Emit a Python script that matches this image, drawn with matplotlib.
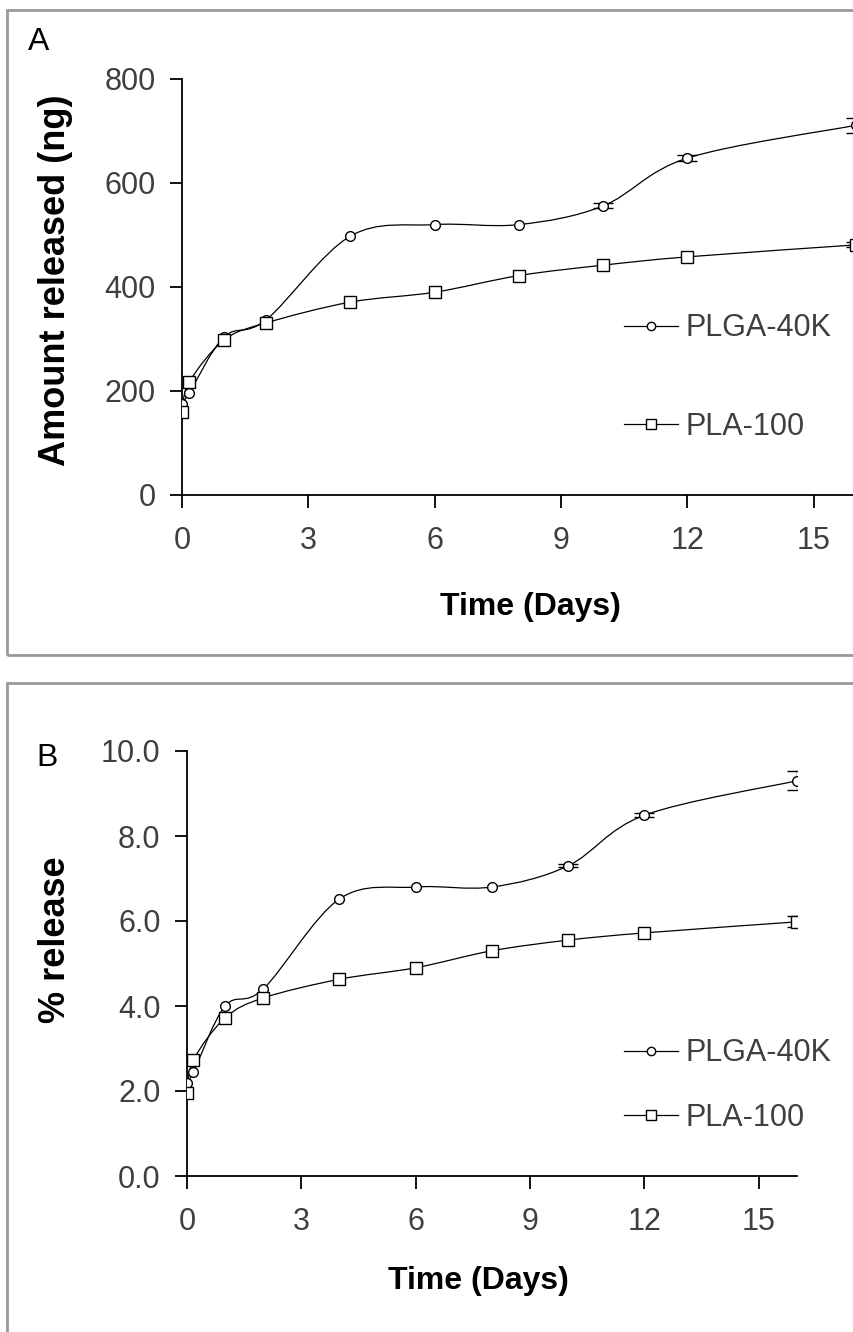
import matplotlib
matplotlib.use('Agg')

import numpy as np
import matplotlib.pyplot as plt
from matplotlib.path import Path
from matplotlib.patches import PathPatch, Rectangle
from matplotlib.lines import Line2D
from matplotlib import font_manager

plt.rcParams['font.family'] = ['Liberation Sans', 'DejaVu Sans']

# ---- data ----
days = [0.0, 0.17, 1, 2, 4, 6, 8, 10, 12, 16]

# panel A: amount released (ng)
plga_ng = [175, 196, 304, 337, 498, 520, 520, 556, 648, 711]
pla_ng = [160, 217, 298, 331, 371, 390, 422, 442, 458, 481]
plga_ng_err = [0, 0, 0, 0, 0, 0, 0, 5, 5, 14]
pla_ng_err = [0, 0, 0, 0, 0, 0, 0, 0, 0, 5]

# panel B: % release
plga_pct = [2.2, 2.45, 4.0, 4.4, 6.52, 6.8, 6.8, 7.3, 8.49, 9.3]
pla_pct = [1.95, 2.73, 3.72, 4.19, 4.63, 4.9, 5.3, 5.55, 5.72, 5.98]
plga_pct_err = [0, 0, 0, 0, 0, 0, 0, 0.04, 0.04, 0.22]
pla_pct_err = [0, 0, 0, 0, 0, 0, 0, 0, 0, 0.13]

x_ticks = [0, 3, 6, 9, 12, 15]
yticks_a = [0, 200, 400, 600, 800]
yticks_b = [0, 2, 4, 6, 8, 10]
series_labels = ['PLGA-40K', 'PLA-100']

W, H = 854, 1332
fig = plt.figure(figsize=(W / 100, H / 100), dpi=100)
fig.patch.set_facecolor('white')

tick_color = '#3f3f3f'

# narrow bold face for the x titles, if it is there
installed = {f.name for f in font_manager.fontManager.ttflist}
narrow = 'Liberation Sans Narrow' if 'Liberation Sans Narrow' in installed else None


def fx(px):
    return px / W


def fy(py):
    return 1 - py / H


def smooth_line(ax, x, y):
    # Excel-style smoothed line: cubic Bezier through every point
    x = np.asarray(x, float)
    y = np.asarray(y, float)
    n = len(x)
    verts = [(x[0], y[0])]
    codes = [Path.MOVETO]
    for i in range(n - 1):
        x0, y0 = (x[i - 1], y[i - 1]) if i > 0 else (x[i], y[i])
        x3, y3 = (x[i + 2], y[i + 2]) if i + 2 < n else (x[i + 1], y[i + 1])
        c1 = (x[i] + (x[i + 1] - x0) / 6, y[i] + (y[i + 1] - y0) / 6)
        c2 = (x[i + 1] - (x3 - x[i]) / 6, y[i + 1] - (y3 - y[i]) / 6)
        verts += [c1, c2, (x[i + 1], y[i + 1])]
        codes += [Path.CURVE4] * 3
    ax.add_patch(PathPatch(Path(verts, codes), facecolor='none',
                           edgecolor='black', lw=0.9, zorder=2))


def draw_series(ax, x, y, err, marker, ms):
    smooth_line(ax, x, y)
    x = np.asarray(x, float)
    y = np.asarray(y, float)
    err = np.asarray(err, float)
    has = err > 0
    ax.errorbar(x[has], y[has], yerr=err[has], fmt='none', ecolor='black',
                elinewidth=1.0, capsize=7, capthick=1.0, zorder=3)
    ax.plot(x, y, linestyle='none', marker=marker, ms=ms, mfc='white',
            mec='black', mew=1.0, zorder=4)


def style_axes(ax, yticks, ylim, fmt):
    for s in ['top', 'right']:
        ax.spines[s].set_visible(False)
    for s in ['left', 'bottom']:
        ax.spines[s].set_linewidth(1.3)
        ax.spines[s].set_color('black')
    ax.set_xlim(0, 16)
    ax.set_ylim(*ylim)
    ax.set_xticks(x_ticks)
    ax.set_yticks(yticks)
    ax.set_yticklabels([fmt.format(v) for v in yticks])
    ax.tick_params(direction='out', length=9, width=1.3, colors='black',
                   labelcolor=tick_color, labelsize=22, pad=10)
    ax.tick_params(axis='x', pad=13)
    ax.patch.set_alpha(0)


def xtitle(x, y):
    if narrow:
        fig.text(fx(x), fy(y), 'Time (Days)', family=narrow, fontsize=29,
                 fontweight='bold', ha='center', va='center')
    else:
        fig.text(fx(x), fy(y), 'Time (Days)', fontsize=23,
                 fontweight='bold', ha='center', va='center')


# panel frames
fig.add_artist(Rectangle((fx(7), fy(655)), 2, (655 - 10) / H,
                         transform=fig.transFigure, fill=False,
                         edgecolor='#999999', lw=2))
fig.add_artist(Rectangle((fx(7), -0.1), 2, fy(683) + 0.1,
                         transform=fig.transFigure, fill=False,
                         edgecolor='#999999', lw=2))

# ---- panel A ----
axA = fig.add_axes([fx(182), fy(495), 674 / W, 416 / H])
draw_series(axA, days, plga_ng, plga_ng_err, 'o', 7)
draw_series(axA, days, pla_ng, pla_ng_err, 's', 8)
style_axes(axA, yticks_a, (0, 800), '{:d}')
fig.text(fx(56), fy(280), 'Amount released (ng)', fontsize=26, fontweight='bold',
         rotation=90, ha='center', va='center')
xtitle(530, 607)
fig.text(fx(28), fy(42), 'A', fontsize=23, va='center', ha='left')

# ---- panel B ----
axB = fig.add_axes([fx(187), fy(1176), 610 / W, 425 / H])
draw_series(axB, days, plga_pct, plga_pct_err, 'o', 7)
draw_series(axB, days, pla_pct, pla_pct_err, 's', 8)
style_axes(axB, yticks_b, (0, 10), '{:.1f}')
fig.text(fx(56), fy(940), '% release', fontsize=26, fontweight='bold',
         rotation=90, ha='center', va='center')
xtitle(478, 1281)
fig.text(fx(36), fy(758), 'B', fontsize=23, va='center', ha='left')

# legends
handles = [Line2D([], [], color='black', lw=0.9, marker='o', ms=6, mfc='white', mec='black'),
           Line2D([], [], color='black', lw=0.9, marker='s', ms=6.5, mfc='white', mec='black')]
for ax, top, spacing in [(axA, 292, 2.25), (axB, 1017, 1.12)]:
    leg = ax.legend(handles, series_labels, loc='upper left', frameon=False,
                    bbox_to_anchor=(fx(603), fy(top)), bbox_transform=fig.transFigure,
                    fontsize=22, handlelength=1.75, handletextpad=0.25,
                    labelspacing=spacing, borderpad=0.2)
    for t in leg.get_texts():
        t.set_color(tick_color)

fig.savefig('out.png', dpi=100, facecolor='white')
